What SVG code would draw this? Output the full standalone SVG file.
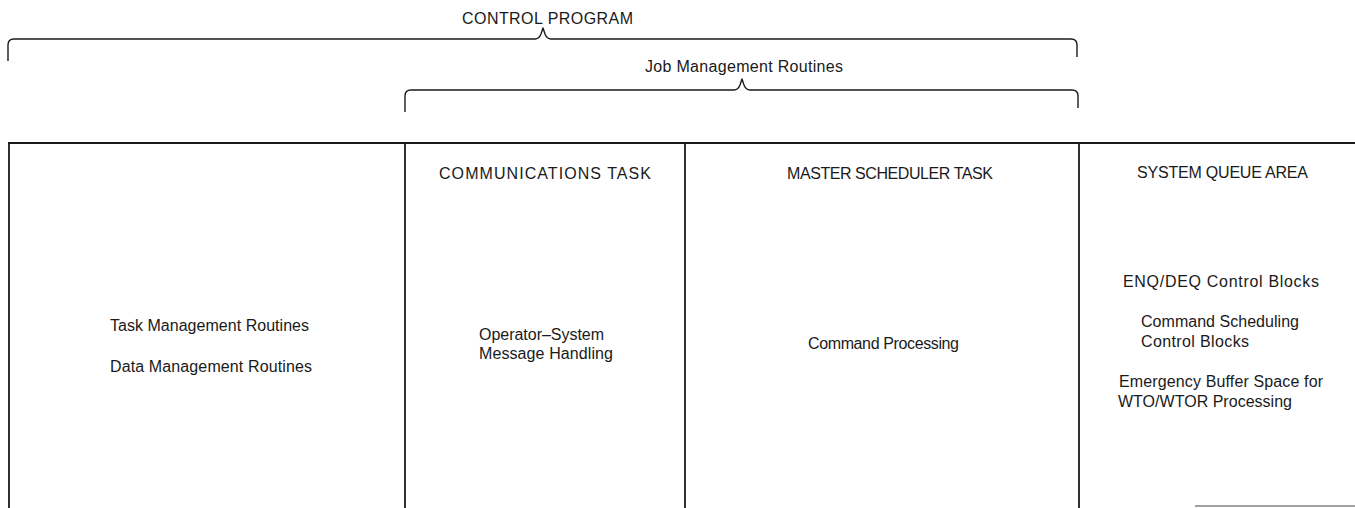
<svg xmlns="http://www.w3.org/2000/svg" width="1355" height="508" viewBox="0 0 1355 508">
<style>
.t{font-family:"Liberation Sans",Arial,sans-serif;font-size:16px;fill:#1a1a1a}
.ln{fill:none;stroke:#1a1a1a;stroke-width:1.8;stroke-linecap:butt}
.br{fill:none;stroke:#1a1a1a;stroke-width:1.4;stroke-linejoin:round}
</style>
<rect width="1355" height="508" fill="#fff"/>
<g id="connectors">
<path class="br" d="M8,61 L8,45 Q8,39 14,39 L535,39 Q539,39 541,34 L543,28 L545,34 Q547,39 551,39 L1071,39 Q1077,39 1077,45 L1077,57"/>
<path class="br" d="M405,112 L405,96 Q405,90 411,90 L734,90 Q738,90 740,85 L742,79 L744,85 Q746,90 750,90 L1072,90 Q1078,90 1078,96 L1078,108"/>
</g>
<g id="frame">
<path class="ln" d="M8,143 L1355,143"/>
<path class="ln" d="M9,143 L9,508"/>
<path class="ln" d="M405,143 L405,508"/>
<path class="ln" d="M685,143 L685,508"/>
<path class="ln" d="M1079,143 L1079,508"/>
<path d="M1195,506 L1355,506" fill="none" stroke="#444" stroke-width="1.2"/>
</g>
<g id="control-program">
<text class="t" x="462" y="24" textLength="171" lengthAdjust="spacing">CONTROL PROGRAM</text>
</g>
<g id="job-management">
<text class="t" x="645" y="72" textLength="198" lengthAdjust="spacing">Job Management Routines</text>
</g>
<g id="nucleus">
<text class="t" x="110" y="331" textLength="199" lengthAdjust="spacing">Task Management Routines</text>
<text class="t" x="110" y="372" textLength="202" lengthAdjust="spacing">Data Management Routines</text>
</g>
<g id="communications-task">
<text class="t" x="439" y="179" textLength="212" lengthAdjust="spacing">COMMUNICATIONS TASK</text>
<text class="t" x="479" y="340" textLength="125" lengthAdjust="spacing">Operator–System</text>
<text class="t" x="479" y="359" textLength="134" lengthAdjust="spacing">Message Handling</text>
</g>
<g id="master-scheduler-task">
<text class="t" x="787" y="179" textLength="206" lengthAdjust="spacing">MASTER SCHEDULER TASK</text>
<text class="t" x="808" y="349" textLength="151" lengthAdjust="spacing">Command Processing</text>
</g>
<g id="system-queue-area">
<text class="t" x="1137" y="178" textLength="171" lengthAdjust="spacing">SYSTEM QUEUE AREA</text>
<text class="t" x="1123" y="287" textLength="196" lengthAdjust="spacing">ENQ/DEQ Control Blocks</text>
<text class="t" x="1141" y="327" textLength="158" lengthAdjust="spacing">Command Scheduling</text>
<text class="t" x="1141" y="347" textLength="108" lengthAdjust="spacing">Control Blocks</text>
<text class="t" x="1119" y="387" textLength="204" lengthAdjust="spacing">Emergency Buffer Space for</text>
<text class="t" x="1118" y="407" textLength="174" lengthAdjust="spacing">WTO/WTOR Processing</text>
</g>
</svg>
